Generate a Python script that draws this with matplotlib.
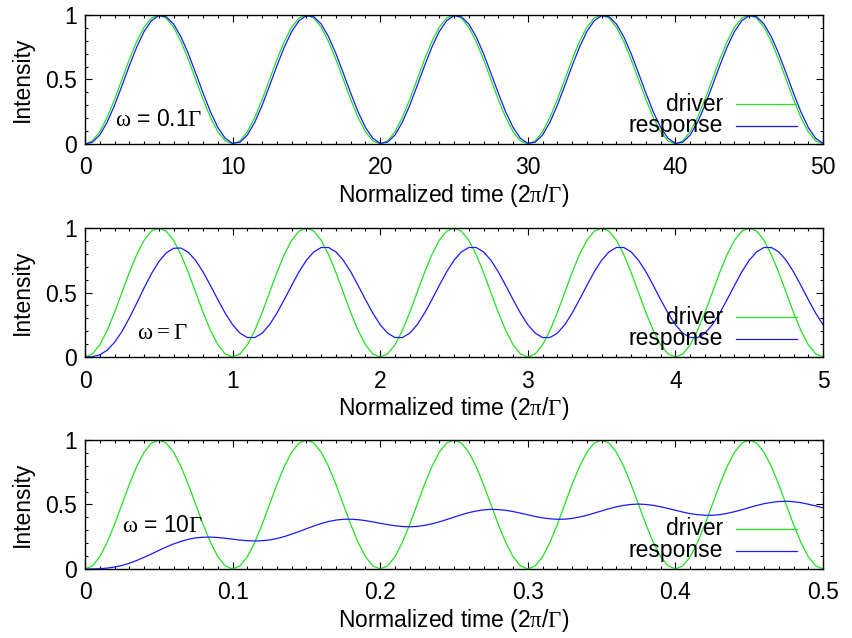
import numpy as np
import matplotlib.pyplot as plt
from matplotlib.ticker import MultipleLocator, FormatStrFormatter

plt.rcParams['font.family'] = ['Liberation Sans', 'DejaVu Sans']
plt.rcParams['mathtext.fontset'] = 'custom'
plt.rcParams['mathtext.rm'] = 'Liberation Serif'
plt.rcParams['font.size'] = 16.5

# time grids (in units of 2pi/Gamma), 100 samples each like gnuplot
t_slow = np.linspace(0, 50, 101)
t_mid = np.linspace(0, 5, 101)
t_fast = np.linspace(0, 0.5, 101)

# driver intensity, same shape in every panel (5 periods)
driver = [
    0, 0.024, 0.095, 0.206, 0.345, 0.5, 0.655, 0.794, 0.905, 0.976, 1.0, 0.976, 0.905, 0.794, 0.655, 0.5, 0.345, 0.206, 0.095, 0.024,
    0, 0.024, 0.095, 0.206, 0.345, 0.5, 0.655, 0.794, 0.905, 0.976, 1.0, 0.976, 0.905, 0.794, 0.655, 0.5, 0.345, 0.206, 0.095, 0.024,
    0, 0.024, 0.095, 0.206, 0.345, 0.5, 0.655, 0.794, 0.905, 0.976, 1.0, 0.976, 0.905, 0.794, 0.655, 0.5, 0.345, 0.206, 0.095, 0.024,
    0, 0.024, 0.095, 0.206, 0.345, 0.5, 0.655, 0.794, 0.905, 0.976, 1.0, 0.976, 0.905, 0.794, 0.655, 0.5, 0.345, 0.206, 0.095, 0.024,
    0, 0.024, 0.095, 0.206, 0.345, 0.5, 0.655, 0.794, 0.905, 0.976, 1.0, 0.976, 0.905, 0.794, 0.655, 0.5, 0.345, 0.206, 0.095, 0.024,
    0]

# response for omega = 0.1 Gamma
resp_slow = [
    0, 0.014, 0.070, 0.169, 0.300, 0.451, 0.606, 0.751, 0.872, 0.956, 0.995, 0.986, 0.930, 0.831, 0.700, 0.549, 0.394, 0.249, 0.128, 0.044,
    0.005, 0.014, 0.070, 0.169, 0.300, 0.451, 0.606, 0.751, 0.872, 0.956, 0.995, 0.986, 0.930, 0.831, 0.700, 0.549, 0.394, 0.249, 0.128, 0.044,
    0.005, 0.014, 0.070, 0.169, 0.300, 0.451, 0.606, 0.751, 0.872, 0.956, 0.995, 0.986, 0.930, 0.831, 0.700, 0.549, 0.394, 0.249, 0.128, 0.044,
    0.005, 0.014, 0.070, 0.169, 0.300, 0.451, 0.606, 0.751, 0.872, 0.956, 0.995, 0.986, 0.930, 0.831, 0.700, 0.549, 0.394, 0.249, 0.128, 0.044,
    0.005, 0.014, 0.070, 0.169, 0.300, 0.451, 0.606, 0.751, 0.872, 0.956, 0.995, 0.986, 0.930, 0.831, 0.700, 0.549, 0.394, 0.249, 0.128, 0.044,
    0.005]

# response for omega = Gamma
resp_mid = [
    0, 0.002, 0.017, 0.053, 0.114, 0.198, 0.302, 0.417, 0.535, 0.646, 0.739, 0.807, 0.843, 0.845, 0.812, 0.748, 0.659, 0.554, 0.444, 0.339,
    0.250, 0.185, 0.151, 0.151, 0.185, 0.250, 0.340, 0.445, 0.555, 0.661, 0.750, 0.815, 0.849, 0.849, 0.815, 0.750, 0.661, 0.555, 0.445, 0.340,
    0.250, 0.185, 0.151, 0.151, 0.185, 0.250, 0.340, 0.445, 0.555, 0.661, 0.750, 0.815, 0.849, 0.849, 0.815, 0.750, 0.661, 0.555, 0.445, 0.340,
    0.250, 0.185, 0.151, 0.151, 0.185, 0.250, 0.340, 0.445, 0.555, 0.661, 0.750, 0.815, 0.849, 0.849, 0.815, 0.750, 0.661, 0.555, 0.445, 0.340,
    0.250, 0.185, 0.151, 0.151, 0.185, 0.250, 0.340, 0.445, 0.555, 0.661, 0.750, 0.815, 0.849, 0.849, 0.815, 0.750, 0.661, 0.555, 0.445, 0.340,
    0.250]

# response for omega = 10 Gamma
resp_fast = [
    0, 0.000, 0.002, 0.007, 0.015, 0.027, 0.044, 0.066, 0.090, 0.116, 0.144, 0.170, 0.194, 0.214, 0.230, 0.241, 0.246, 0.247, 0.244, 0.238,
    0.231, 0.224, 0.219, 0.217, 0.219, 0.225, 0.236, 0.251, 0.270, 0.290, 0.312, 0.333, 0.352, 0.368, 0.379, 0.385, 0.386, 0.382, 0.375, 0.365,
    0.354, 0.344, 0.335, 0.329, 0.327, 0.330, 0.338, 0.350, 0.365, 0.383, 0.402, 0.420, 0.437, 0.449, 0.458, 0.462, 0.460, 0.455, 0.445, 0.433,
    0.420, 0.407, 0.396, 0.389, 0.385, 0.386, 0.392, 0.403, 0.416, 0.433, 0.450, 0.467, 0.482, 0.493, 0.500, 0.503, 0.500, 0.493, 0.482, 0.469,
    0.455, 0.441, 0.429, 0.421, 0.416, 0.416, 0.421, 0.431, 0.444, 0.459, 0.476, 0.492, 0.506, 0.516, 0.523, 0.525, 0.521, 0.514, 0.502, 0.489,
    0.474]

panels = [
    (t_slow, resp_slow, 50, 10, 1, r'$\mathrm{\omega}$ = 0.1$\mathrm{\Gamma}$', 2.0, 0.19),
    (t_mid, resp_mid, 5, 1, 0.1, r'$\mathrm{\omega = \Gamma}$', 0.35, 0.19),
    (t_fast, resp_fast, 0.5, 0.1, 0.01, r'$\mathrm{\omega}$ = 10$\mathrm{\Gamma}$', 0.025, 0.34),
]
bottoms = [0.7743, 0.4404, 0.1082]

GREEN = '#22e022'
BLUE = '#1a1aff'

fig = plt.figure(figsize=(8.52, 6.38), dpi=100)

for (t, resp, xmax, major, minor, label, lx, ly), b in zip(panels, bottoms):
    ax = fig.add_axes([0.0998, b, 0.8662, 0.2022])
    ax.plot(t, driver, color=GREEN, lw=0.9)
    ax.plot(t, resp, color=BLUE, lw=0.9)
    ax.set_xlim(0, xmax)
    ax.set_ylim(0, 1)
    ax.xaxis.set_major_locator(MultipleLocator(major))
    ax.xaxis.set_minor_locator(MultipleLocator(minor))
    ax.yaxis.set_major_locator(MultipleLocator(0.5))
    ax.yaxis.set_minor_locator(MultipleLocator(0.1))
    ax.xaxis.set_major_formatter(FormatStrFormatter('%g'))
    ax.yaxis.set_major_formatter(FormatStrFormatter('%g'))
    ax.tick_params(which='both', direction='in', top=True, right=True, width=0.8)
    ax.tick_params(which='major', length=5)
    ax.tick_params(which='minor', length=2.5)
    ax.tick_params(axis='x', which='major', pad=9)
    ax.tick_params(axis='y', which='major', pad=6)
    for s in ax.spines.values():
        s.set_linewidth(1.0)
    ax.set_xlabel(r'Normalized time (2$\mathrm{\pi}$/$\mathrm{\Gamma}$)', labelpad=2)
    ax.set_ylabel('Intensity', labelpad=8)
    ax.text(lx, ly, label, va='center', ha='left')

    # gnuplot style key, bottom right
    for yk, name, col in [(0.31, 'driver', GREEN), (0.14, 'response', BLUE)]:
        ax.text(0.8645, yk, name, transform=ax.transAxes, ha='right', va='center')
        ax.plot([0.8821, 0.9648], [yk, yk], transform=ax.transAxes, color=col, lw=0.9)

fig.savefig('out.png', dpi=100)
